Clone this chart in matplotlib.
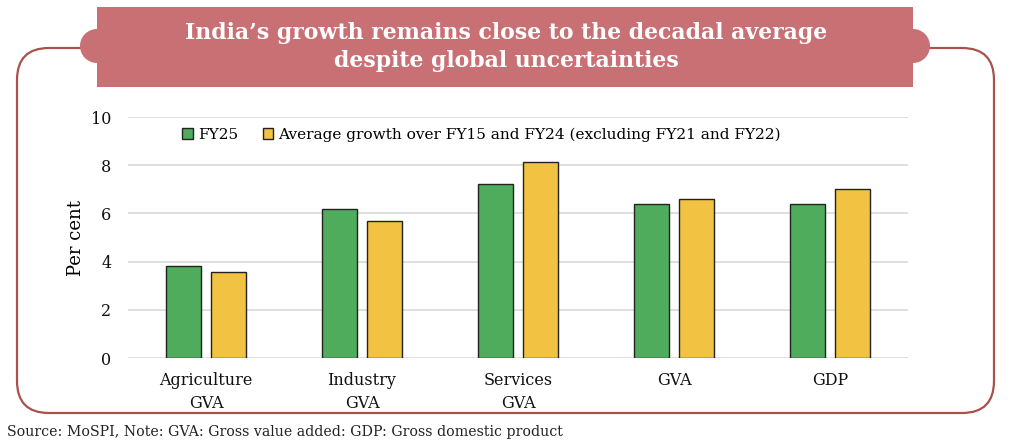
import matplotlib
matplotlib.use('Agg')
import numpy as np
import matplotlib.pyplot as plt
from matplotlib.patches import FancyBboxPatch, Rectangle, Circle

# data
categories = ['Agriculture\nGVA', 'Industry\nGVA', 'Services\nGVA', 'GVA', 'GDP']
fy25 = [3.8, 6.2, 7.2, 6.4, 6.4]
avg_growth = [3.55, 5.7, 8.15, 6.6, 7.0]
series_names = ['FY25', 'Average growth over FY15 and FY24 (excluding FY21 and FY22)']

title = 'India\u2019s growth remains close to the decadal average\ndespite global uncertainties'
source = 'Source: MoSPI, Note: GVA: Gross value added: GDP: Gross domestic product'

green = '#4fac5c'
yellow = '#f2c243'
banner = '#c87073'
border = '#a9524b'

plt.rcParams['font.family'] = ['DejaVu Serif']

fig = plt.figure(figsize=(10.24, 4.48), dpi=100)

# decoration layer in pixel coordinates
deco = fig.add_axes([0, 0, 1, 1], zorder=0)
deco.set_xlim(0, 1024)
deco.set_ylim(448, 0)
deco.axis('off')

box = FancyBboxPatch((17 + 32, 48 + 32), 994 - 17 - 64, 413 - 48 - 64,
                     boxstyle='round,pad=32', facecolor='white',
                     edgecolor=border, linewidth=1.6)
deco.add_patch(box)
deco.add_patch(Rectangle((97, 7), 816, 80, facecolor=banner, edgecolor='none'))
deco.add_patch(Circle((97, 46), 17, facecolor=banner, edgecolor='none'))
deco.add_patch(Circle((913, 46), 17, facecolor=banner, edgecolor='none'))
deco.text(506, 47, title, ha='center', va='center', color='white',
          fontsize=15.8, fontweight='bold', linespacing=1.3)
fig.text(7 / 1024, 1 - 432 / 448, source, ha='left', va='center',
         fontsize=10.2, color='#222222')

ax = fig.add_axes([128 / 1024, 1 - 358 / 448, 780 / 1024, 241 / 448], zorder=1)
ax.patch.set_alpha(0)

x = np.arange(len(categories))
w = 0.225
off = 0.144
ax.bar(x - off, fy25, w, color=green, edgecolor='#222222', linewidth=1,
       label=series_names[0], zorder=3)
ax.bar(x + off, avg_growth, w, color=yellow, edgecolor='#222222', linewidth=1,
       label=series_names[1], zorder=3)

ax.set_xlim(-0.5, len(categories) - 0.5)
ax.set_ylim(0, 10)
ax.set_yticks(range(0, 11, 2))
ax.set_xticks(x)
ax.set_xticklabels(categories, fontsize=11.5, linespacing=1.45)
ax.tick_params(axis='both', length=0, labelsize=11.5, colors='#111111')
ax.tick_params(axis='x', pad=10)
ax.tick_params(axis='y', pad=12)
ax.grid(axis='y', color='#d9d9d9', linewidth=1.2, zorder=0)
for s in ax.spines.values():
    s.set_visible(False)
ax.set_ylabel('Per cent', fontsize=13, labelpad=4)

ax.legend(loc='upper left', bbox_to_anchor=(0.056, 1.0), ncol=2, frameon=False,
          fontsize=11.1, handlelength=0.7, handleheight=0.7, handletextpad=0.3,
          columnspacing=1.6, borderaxespad=0.3)

fig.savefig('out.png', dpi=100)
